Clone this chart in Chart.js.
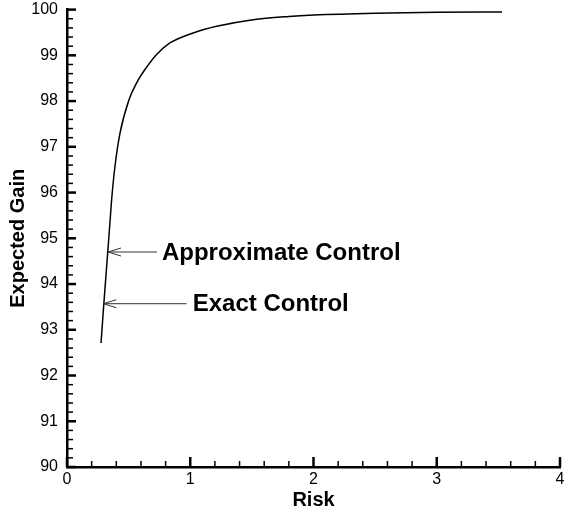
<!DOCTYPE html>
<html>
<head>
<meta charset="utf-8">
<script src="https://cdn.jsdelivr.net/npm/chart.js@4"></script>
<style>
    html, body { margin: 0; padding: 0; background: #fff; }
    #wrap { width: 571px; height: 512px; }
</style>
</head>
<body>
<div id="wrap"><canvas id="chart" width="571" height="512"></canvas></div>
<script>
/* curve values */
var riskValues = [0.276, 0.297, 0.325, 0.350, 0.362, 0.389, 0.430, 0.503, 0.565, 0.651, 0.727, 0.835, 1.024, 1.214, 1.51, 1.80, 2.00, 2.50, 3.00, 3.53];
var gainValues = [92.71, 93.50, 94.50, 95.40, 95.84, 96.57, 97.30, 98.03, 98.40, 98.76, 99.02, 99.27, 99.49, 99.635, 99.78, 99.85, 99.88, 99.92, 99.94, 99.95];

/* axis ticks */
var xTickLabels = ['0', '1', '2', '3', '4'];
var yTickLabels = ['90', '91', '92', '93', '94', '95', '96', '97', '98', '99', '100'];

/* annotations: arrow tip, tail and text start, in data units */
var noteLabels = ['Approximate Control', 'Exact Control'];
var noteTipX = [0.333, 0.295];
var noteTipY = [94.70, 93.57];
var noteTailX = [0.73, 0.97];
var noteTextX = [0.77, 1.02];

var points = riskValues.map(function (r, i) {
    return {x: r, y: gainValues[i]};
});

/* draws inward ticks and the arrow labels */
var extrasPlugin = {
    id: 'extras',
    afterDraw: function (chart) {
        var ctx = chart.ctx;
        var xs = chart.scales.x;
        var ys = chart.scales.y;
        var area = chart.chartArea;
        ctx.save();
        ctx.strokeStyle = '#000';
        // x ticks every 0.2, majors on integers
        for (var i = 0; i <= 20; i++) {
            var px = xs.getPixelForValue(i * 0.2);
            var major = (i % 5 == 0);
            ctx.lineWidth = major ? 2.5 : 1.5;
            ctx.beginPath();
            ctx.moveTo(px, area.bottom);
            ctx.lineTo(px, area.bottom - (major ? 10 : 6));
            ctx.stroke();
        }
        // y ticks every 0.2
        for (var j = 0; j <= 50; j++) {
            var py = ys.getPixelForValue(90 + j * 0.2);
            var majorY = (j % 5 == 0);
            ctx.lineWidth = majorY ? 2.5 : 1.5;
            ctx.beginPath();
            ctx.moveTo(area.left, py);
            ctx.lineTo(area.left + (majorY ? 9 : 6), py);
            ctx.stroke();
        }
        // arrows with labels
        for (var k = 0; k < noteLabels.length; k++) {
            var tx = xs.getPixelForValue(noteTipX[k]);
            var ty = ys.getPixelForValue(noteTipY[k]);
            var ex = xs.getPixelForValue(noteTailX[k]);
            ctx.strokeStyle = '#333';
            ctx.lineWidth = 1;
            ctx.beginPath();
            ctx.moveTo(ex, ty);
            ctx.lineTo(tx, ty);
            ctx.moveTo(tx + 13, ty - 4);
            ctx.lineTo(tx, ty);
            ctx.lineTo(tx + 13, ty + 4);
            ctx.stroke();
            ctx.fillStyle = '#000';
            ctx.font = 'bold 24px "Liberation Sans", Arial, sans-serif';
            ctx.textAlign = 'left';
            ctx.textBaseline = 'middle';
            ctx.fillText(noteLabels[k], xs.getPixelForValue(noteTextX[k]), ty + 1);
        }
        ctx.restore();
    }
};

var tickFont = {family: '"Liberation Sans", Arial, sans-serif', size: 16};
var titleFont = {family: '"Liberation Sans", Arial, sans-serif', size: 20, weight: 'bold'};

new Chart(document.getElementById('chart'), {
    type: 'line',
    data: {
        datasets: [{
            data: points,
            borderColor: '#000',
            borderWidth: 1.5,
            pointRadius: 0,
            fill: false,
            cubicInterpolationMode: 'monotone'
        }]
    },
    options: {
        responsive: false,
        animation: false,
        layout: {padding: {top: 0, right: 11, left: 0, bottom: 0}},
        plugins: {
            legend: {display: false},
            tooltip: {enabled: false}
        },
        scales: {
            x: {
                type: 'linear',
                min: 0,
                max: 4,
                grid: {display: false, drawTicks: true, tickLength: 3},
                border: {display: true, color: '#000', width: 2.5},
                ticks: {
                    stepSize: 1,
                    padding: 0,
                    color: '#000',
                    font: tickFont,
                    maxRotation: 0,
                    callback: function (v) { return xTickLabels[v]; }
                },
                title: {display: true, text: 'Risk', color: '#000', font: titleFont, padding: {top: 0, bottom: 0}},
                afterFit: function (scale) { scale.height = 45; }
            },
            y: {
                type: 'linear',
                min: 90,
                max: 100,
                grid: {display: false, drawTicks: true, tickLength: 9},
                border: {display: true, color: '#000', width: 2.5},
                ticks: {
                    stepSize: 1,
                    padding: 0,
                    color: '#000',
                    font: tickFont,
                    callback: function (v) { return yTickLabels[v - 90]; }
                },
                title: {display: true, text: 'Expected Gain', color: '#000', font: titleFont, padding: {top: 6, bottom: 4}},
                afterFit: function (scale) { scale.width = 67; }
            }
        }
    },
    plugins: [extrasPlugin]
});
</script>
</body>
</html>
